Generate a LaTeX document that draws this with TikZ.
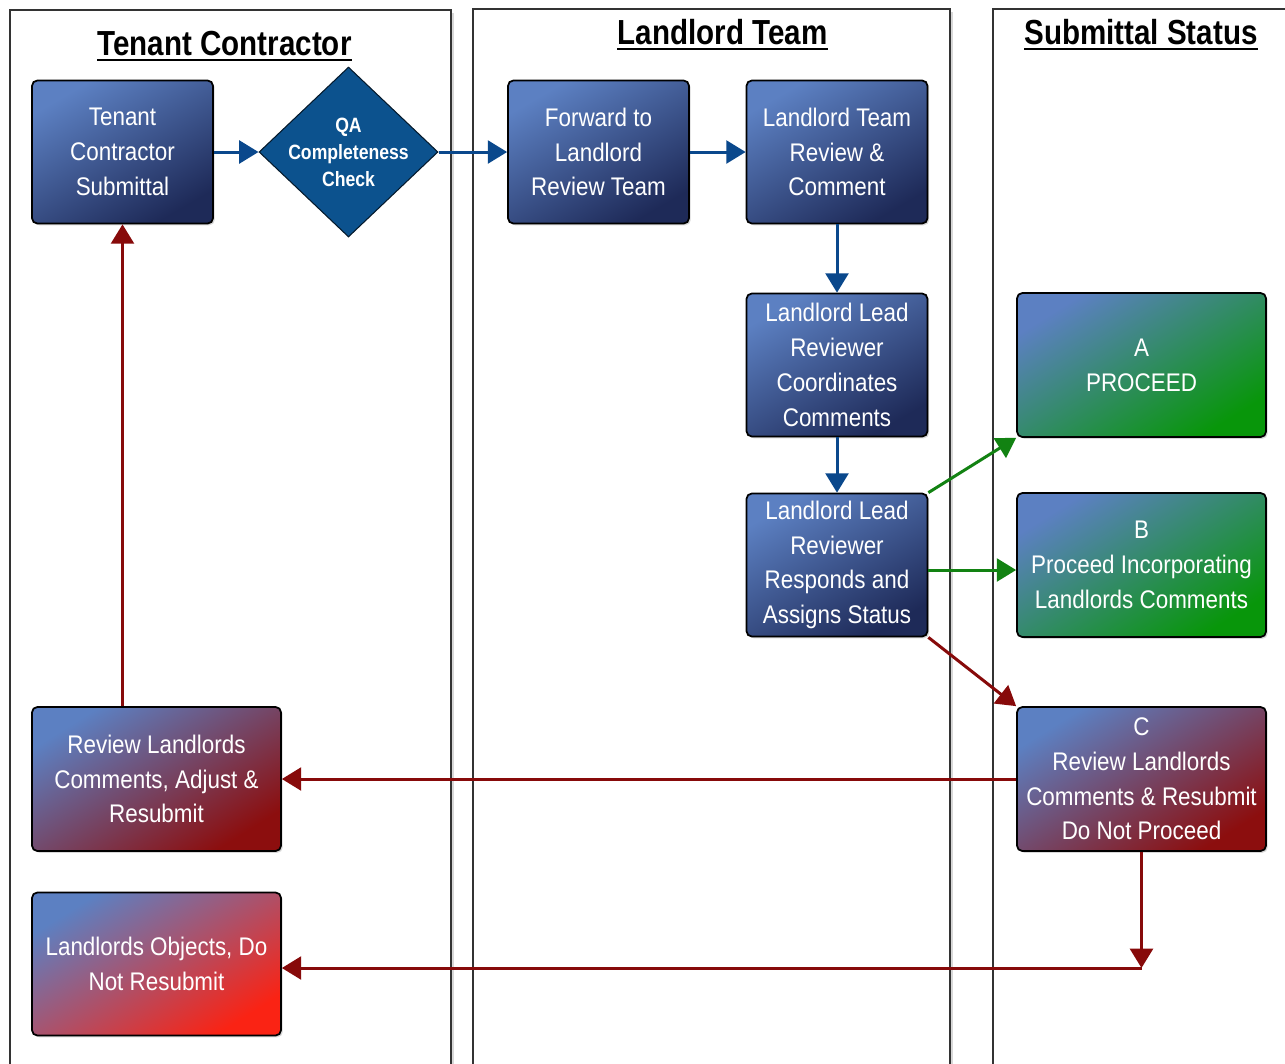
\documentclass[tikz,border=0pt]{standalone}
\usepackage{fontspec}
\setmainfont{Liberation Sans}
\newfontfamily\boxfont[FakeStretch=0.88]{Liberation Sans}
\newfontfamily\hdrfont[FakeStretch=0.85]{Liberation Sans}
\usetikzlibrary{arrows.meta,shapes.geometric,shadows}
\definecolor{bluelight}{RGB}{92,128,194}
\definecolor{bluedark}{RGB}{30,42,88}
\definecolor{greendark}{RGB}{8,150,10}
\definecolor{reddark}{RGB}{140,14,14}
\definecolor{redbright}{RGB}{250,35,20}
\definecolor{qablue}{RGB}{12,82,142}
\definecolor{arrblue}{RGB}{10,72,140}
\definecolor{arrgreen}{RGB}{18,130,18}
\definecolor{arrred}{RGB}{135,10,10}
\tikzset{
  lane/.style={draw=black!80, line width=1.2pt, fill=white,
    drop shadow={shadow xshift=1.5pt, shadow yshift=-1.5pt, opacity=0.3}},
  hdr/.style={font=\hdrfont\bfseries\fontsize{19.8}{22}\selectfont, inner sep=0pt, anchor=base},
  uline/.style={line width=1.1pt, black},
  boxbase/.style={rectangle, rounded corners=3pt, draw=black, line width=1pt,
    text=white, align=center, inner sep=2pt,
    font=\boxfont\fontsize{14.5}{19.8}\selectfont,
    drop shadow={shadow xshift=1pt, shadow yshift=-1pt, opacity=0.3}},
  bluebox/.style={boxbase, minimum width=3.62cm, minimum height=2.86cm,
    top color=bluelight, bottom color=bluedark, shading angle=30},
  greenbox/.style={boxbase, minimum width=4.98cm, minimum height=2.88cm,
    top color=bluelight, bottom color=greendark, shading angle=32},
  redbox/.style={boxbase, minimum width=4.98cm, minimum height=2.88cm,
    top color=bluelight, bottom color=reddark, shading angle=32},
  brightbox/.style={boxbase, minimum width=4.98cm, minimum height=2.86cm,
    top color=bluelight, bottom color=redbright, shading angle=32},
  qa/.style={diamond, fill=qablue, draw=black!70!qablue, line width=0.6pt,
    minimum width=3.58cm, minimum height=3.4cm, inner sep=0pt},
  qatext/.style={text=white, align=center,
    font=\hdrfont\bfseries\fontsize{11.8}{15.3}\selectfont},
  arr/.style={line width=1.7pt, -{Triangle[length=11pt,width=13pt]}},
  barr/.style={arr, arrblue},
  garr/.style={arr, arrgreen},
  rarr/.style={arr, arrred}
}
\begin{document}
\begin{tikzpicture}[x=0.02cm,y=-0.02cm]
\clip (0,0) rectangle (1285,1063);
\fill[white] (0,0) rectangle (1285,1063);

% swim lanes
\path[lane] (10,10) rectangle (451,1085);
\path[lane] (473,9) rectangle (950,1085);
\path[lane] (993,9) rectangle (1310,1085);

% headers
\node[hdr] (h1) at (224.5,55) {Tenant Contractor};
\draw[uline] ([yshift=-2.9pt]h1.base west) -- ([yshift=-2.9pt]h1.base east);
\node[hdr] (h2) at (722.5,44) {Landlord Team};
\draw[uline] ([yshift=-2.9pt]h2.base west) -- ([yshift=-2.9pt]h2.base east);
\node[hdr] (h3) at (1141,44) {Submittal Status};
\draw[uline] ([yshift=-2.9pt]h3.base west) -- ([yshift=-2.9pt]h3.base east);

% nodes
\node[bluebox] (tcs) at (122.5,152) {Tenant\\Contractor\\Submittal};
\node[qa, label={[qatext]center:{QA\\Completeness\\Check}}] (qa) at (348.5,152) {};
\node[bluebox] (fwd) at (598.5,152) {Forward to\\Landlord\\Review Team};
\node[bluebox] (ltr) at (837,152) {Landlord Team\\Review \&\\Comment};
\node[bluebox] (coord) at (837,365) {Landlord Lead\\Reviewer\\Coordinates\\Comments};
\node[bluebox] (resp) at (837,565) {Landlord Lead\\Reviewer\\Responds and\\Assigns Status};
\node[greenbox] (sa) at (1141.5,365) {A\\PROCEED};
\node[greenbox] (sb) at (1141.5,565) {B\\Proceed Incorporating\\Landlords Comments};
\node[redbox] (sc) at (1141.5,779) {C\\Review Landlords\\Comments \& Resubmit\\Do Not Proceed};
\node[redbox] (rev) at (156.5,779) {Review Landlords\\Comments, Adjust \&\\Resubmit};
\node[brightbox] (obj) at (156.5,964) {Landlords Objects, Do\\Not Resubmit};
\coordinate (k) at (sc.south |- 0,968);

% connectors
\draw[barr] (tcs.east) -- (qa.west);
\draw[barr] (qa.east) -- (fwd.west);
\draw[barr] (fwd.east) -- (ltr.west);
\draw[barr] (ltr.south) -- (coord.north);
\draw[barr] (coord.south) -- (resp.north);
\draw[garr] (resp.north east) -- (sa.south west);
\draw[garr] ([yshift=-0.1cm]resp.east) -- ([yshift=-0.1cm]sb.west);
\draw[rarr] (resp.south east) -- (sc.north west);
\draw[rarr] (sc.west) -- (rev.east);
\draw[rarr] (sc.south) -- (k);
\draw[rarr] (k) -- (k -| obj.east);
\draw[rarr] (tcs.south |- rev.north) -- (tcs.south);
\end{tikzpicture}
\end{document}
